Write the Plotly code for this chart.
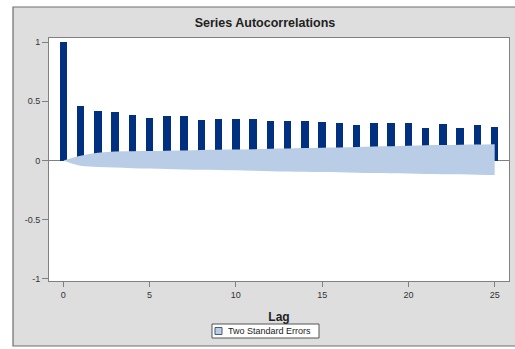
import plotly.graph_objects as go

# Autocorrelation estimates by lag
lags = list(range(0, 26))
acf = [1.0, 0.463, 0.42, 0.41, 0.387, 0.357, 0.374, 0.379, 0.343, 0.351,
       0.351, 0.348, 0.33, 0.337, 0.337, 0.323, 0.32, 0.303, 0.315, 0.315,
       0.315, 0.278, 0.306, 0.278, 0.298, 0.284]

# Two-standard-error band
band_upper = [0.0, 0.04, 0.065, 0.075, 0.078, 0.08, 0.083, 0.085, 0.088, 0.09,
              0.092, 0.095, 0.1, 0.102, 0.105, 0.108, 0.11, 0.113, 0.118, 0.12,
              0.125, 0.128, 0.13, 0.133, 0.135, 0.137]
band_lower = [0.0, -0.045, -0.055, -0.06, -0.065, -0.068, -0.072, -0.075, -0.078, -0.08,
              -0.083, -0.086, -0.09, -0.092, -0.095, -0.098, -0.1, -0.103, -0.106, -0.108,
              -0.11, -0.113, -0.115, -0.117, -0.12, -0.122]

y_ticks = [-1, -0.5, 0, 0.5, 1]
y_tick_text = ["-1", "-0.5", "0", "0.5", "1"]
x_ticks = [0, 5, 10, 15, 20, 25]
band_label = "Two Standard Errors"

W, H = 515, 349
ML, MR, MT, MB = 49, 6, 38, 68
pw, ph = W - ML - MR, H - MT - MB

def px_x(p):
    return (p - ML) / pw

def px_y(p):
    return (H - MB - p) / ph

BAR = "#00307F"
BAND = "#B9CDE6"
GRID = "#808080"
FONT = "Liberation Sans"

fig = go.Figure()

fig.add_trace(go.Scatter(x=lags, y=band_upper, mode="lines",
                         line=dict(width=0, color=BAND, shape="spline"), showlegend=False,
                         hoverinfo="skip"))
fig.add_trace(go.Scatter(x=lags, y=band_lower, mode="lines",
                         line=dict(width=0, color=BAND, shape="spline"), fill="tonexty",
                         fillcolor=BAND, name=band_label, showlegend=False))
fig.add_trace(go.Bar(x=lags, y=acf, width=0.43, marker=dict(color=BAR, line=dict(width=0)),
                     showlegend=False))

shapes = [
    # outer grey frame
    dict(type="rect", xref="paper", yref="paper",
         x0=px_x(13), x1=px_x(517), y0=px_y(346), y1=px_y(7),
         fillcolor="#DEDEDE", line=dict(color="#6E6E6E", width=1.2), layer="below"),
    # white plotting area
    dict(type="rect", xref="paper", yref="paper", x0=0, x1=1, y0=0, y1=1,
         fillcolor="white", line=dict(width=0), layer="below"),
    # legend box
    dict(type="rect", xref="paper", yref="paper",
         x0=px_x(212), x1=px_x(319), y0=px_y(338), y1=px_y(324),
         fillcolor="white", line=dict(color="#555555", width=1), layer="above"),
    # legend swatch
    dict(type="rect", xref="paper", yref="paper",
         x0=px_x(215), x1=px_x(222), y0=px_y(334.5), y1=px_y(327.5),
         fillcolor=BAND, line=dict(color="#4A5A70", width=1), layer="above"),
]

annotations = [
    dict(text=band_label, xref="paper", yref="paper", x=px_x(226), y=px_y(331),
         xanchor="left", yanchor="middle", showarrow=False,
         font=dict(family=FONT, size=9, color="#222222")),
]

fig.update_layout(
    width=W, height=H,
    margin=dict(l=ML, r=MR, t=MT, b=MB, autoexpand=False),
    paper_bgcolor="white",
    plot_bgcolor="white",
    shapes=shapes,
    annotations=annotations,
    bargap=0,
    title=dict(text="<b>Series Autocorrelations</b>", x=265 / W, xanchor="center",
               y=1 - 23 / H, yanchor="middle",
               font=dict(family=FONT, size=12.5, color="#222222")),
    font=dict(family=FONT, size=9, color="#333333"),
    showlegend=False,
    xaxis=dict(range=[-0.83, 25.83], tickvals=x_ticks, ticks="outside", ticklen=5,
               tickcolor=GRID, showline=True, linecolor=GRID, linewidth=1, mirror=True,
               showgrid=False, zeroline=False,
               title=dict(text="<b>Lag</b>", standoff=13,
                          font=dict(family=FONT, size=12, color="#222222"))),
    yaxis=dict(range=[-1.017, 1.034], tickvals=y_ticks, ticktext=y_tick_text,
               ticks="outside", ticklen=6, tickcolor=GRID,
               showline=True, linecolor=GRID, linewidth=1, mirror=True,
               showgrid=False, zeroline=True, zerolinecolor=GRID, zerolinewidth=1),
)

fig.write_html("out.html")
